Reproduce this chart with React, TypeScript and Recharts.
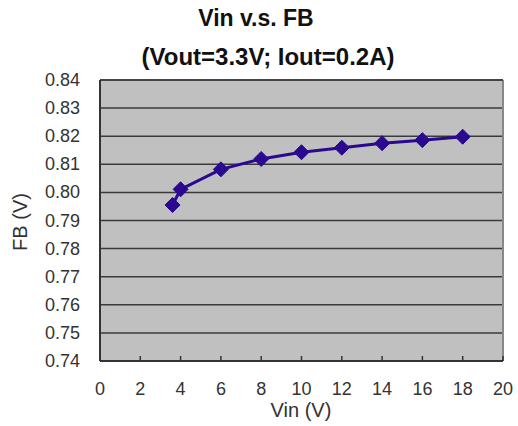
import React from 'react';
import {
  LineChart,
  Line,
  XAxis,
  YAxis,
  CartesianGrid,
  ReferenceLine,
} from 'recharts';

const vin = [3.6, 4, 6, 8, 10, 12, 14, 16, 18];
const fb = [0.7955, 0.8011, 0.8082, 0.8119, 0.8143, 0.8159, 0.8175, 0.8186, 0.8198];
const xTicks = [0, 2, 4, 6, 8, 10, 12, 14, 16, 18, 20];
const yTicks = [0.74, 0.75, 0.76, 0.77, 0.78, 0.79, 0.8, 0.81, 0.82, 0.83, 0.84];

const data = vin.map((v, i) => ({ vin: v, fb: fb[i] }));

const FONT = 'Arial, "Liberation Sans", sans-serif';

const Diamond = (props: any) => {
  const { cx, cy } = props;
  if (cx == null || cy == null) return null;
  const r = 7.5;
  return (
    <path
      d={`M${cx},${cy - r} L${cx + r},${cy} L${cx},${cy + r} L${cx - r},${cy} Z`}
      fill="#2a0890"
      stroke="#2a0890"
    />
  );
};

const XTick = (props: any) => {
  const { x, y, payload } = props;
  return (
    <g>
      <line x1={x} y1={y} x2={x} y2={y - 5} stroke="#333" strokeWidth={1.5} />
      <text x={x} y={y + 34} textAnchor="middle" fill="#333" fontSize={18} fontFamily={FONT}>
        {payload.value}
      </text>
    </g>
  );
};

const YTick = (props: any) => {
  const { x, y, payload } = props;
  return (
    <text x={x - 20} y={y + 6} textAnchor="end" fill="#333" fontSize={18} fontFamily={FONT}>
      {payload.value.toFixed(2)}
    </text>
  );
};

export default function App() {
  return (
    <div style={{ position: 'absolute', left: 0, top: 0, width: 518, height: 426, background: '#fff', fontFamily: FONT }}>
      <LineChart
        width={518}
        height={426}
        data={data}
        margin={{ top: 80, right: 15, left: 0, bottom: 0 }}
        style={{ position: 'absolute', left: 0, top: 0 }}
      >
        <CartesianGrid fill="#c0c0c0" stroke="#3a3a3a" strokeWidth={1.5} vertical={false} />
        <XAxis
          type="number"
          dataKey="vin"
          domain={[0, 20]}
          ticks={xTicks}
          interval={0}
          height={65}
          tickLine={false}
          tickSize={0}
          tickMargin={0}
          axisLine={{ stroke: '#333', strokeWidth: 2 }}
          tick={<XTick />}
        />
        <YAxis
          type="number"
          domain={[0.74, 0.84]}
          ticks={yTicks}
          interval={0}
          width={100}
          tickSize={0}
          tickMargin={0}
          tickLine={false}
          axisLine={{ stroke: '#333', strokeWidth: 2 }}
          tick={<YTick />}
        />
        <ReferenceLine x={20} stroke="#888" strokeWidth={2} />
        <ReferenceLine y={0.84} stroke="#444" strokeWidth={2} />
        <Line
          type="linear"
          dataKey="fb"
          stroke="#2a0890"
          strokeWidth={3}
          dot={<Diamond />}
          activeDot={false}
          isAnimationActive={false}
        />
      </LineChart>
      <div style={{ position: 'absolute', left: 106, width: 300, top: 4, textAlign: 'center', fontSize: 23, fontWeight: 'bold', color: '#111', lineHeight: '28px' }}>
        Vin v.s. FB
      </div>
      <div style={{ position: 'absolute', left: 118, width: 300, top: 42, textAlign: 'center', fontSize: 24, fontWeight: 'bold', color: '#111', lineHeight: '30px' }}>
        (Vout=3.3V; Iout=0.2A)
      </div>
      <div style={{ position: 'absolute', left: 231, width: 140, top: 398, textAlign: 'center', fontSize: 20, color: '#333', lineHeight: '24px' }}>
        Vin (V)
      </div>
      <div
        style={{
          position: 'absolute',
          left: -30,
          width: 100,
          top: 210,
          textAlign: 'center',
          fontSize: 20,
          color: '#333',
          lineHeight: '24px',
          transform: 'rotate(-90deg)',
        }}
      >
        FB (V)
      </div>
    </div>
  );
}
